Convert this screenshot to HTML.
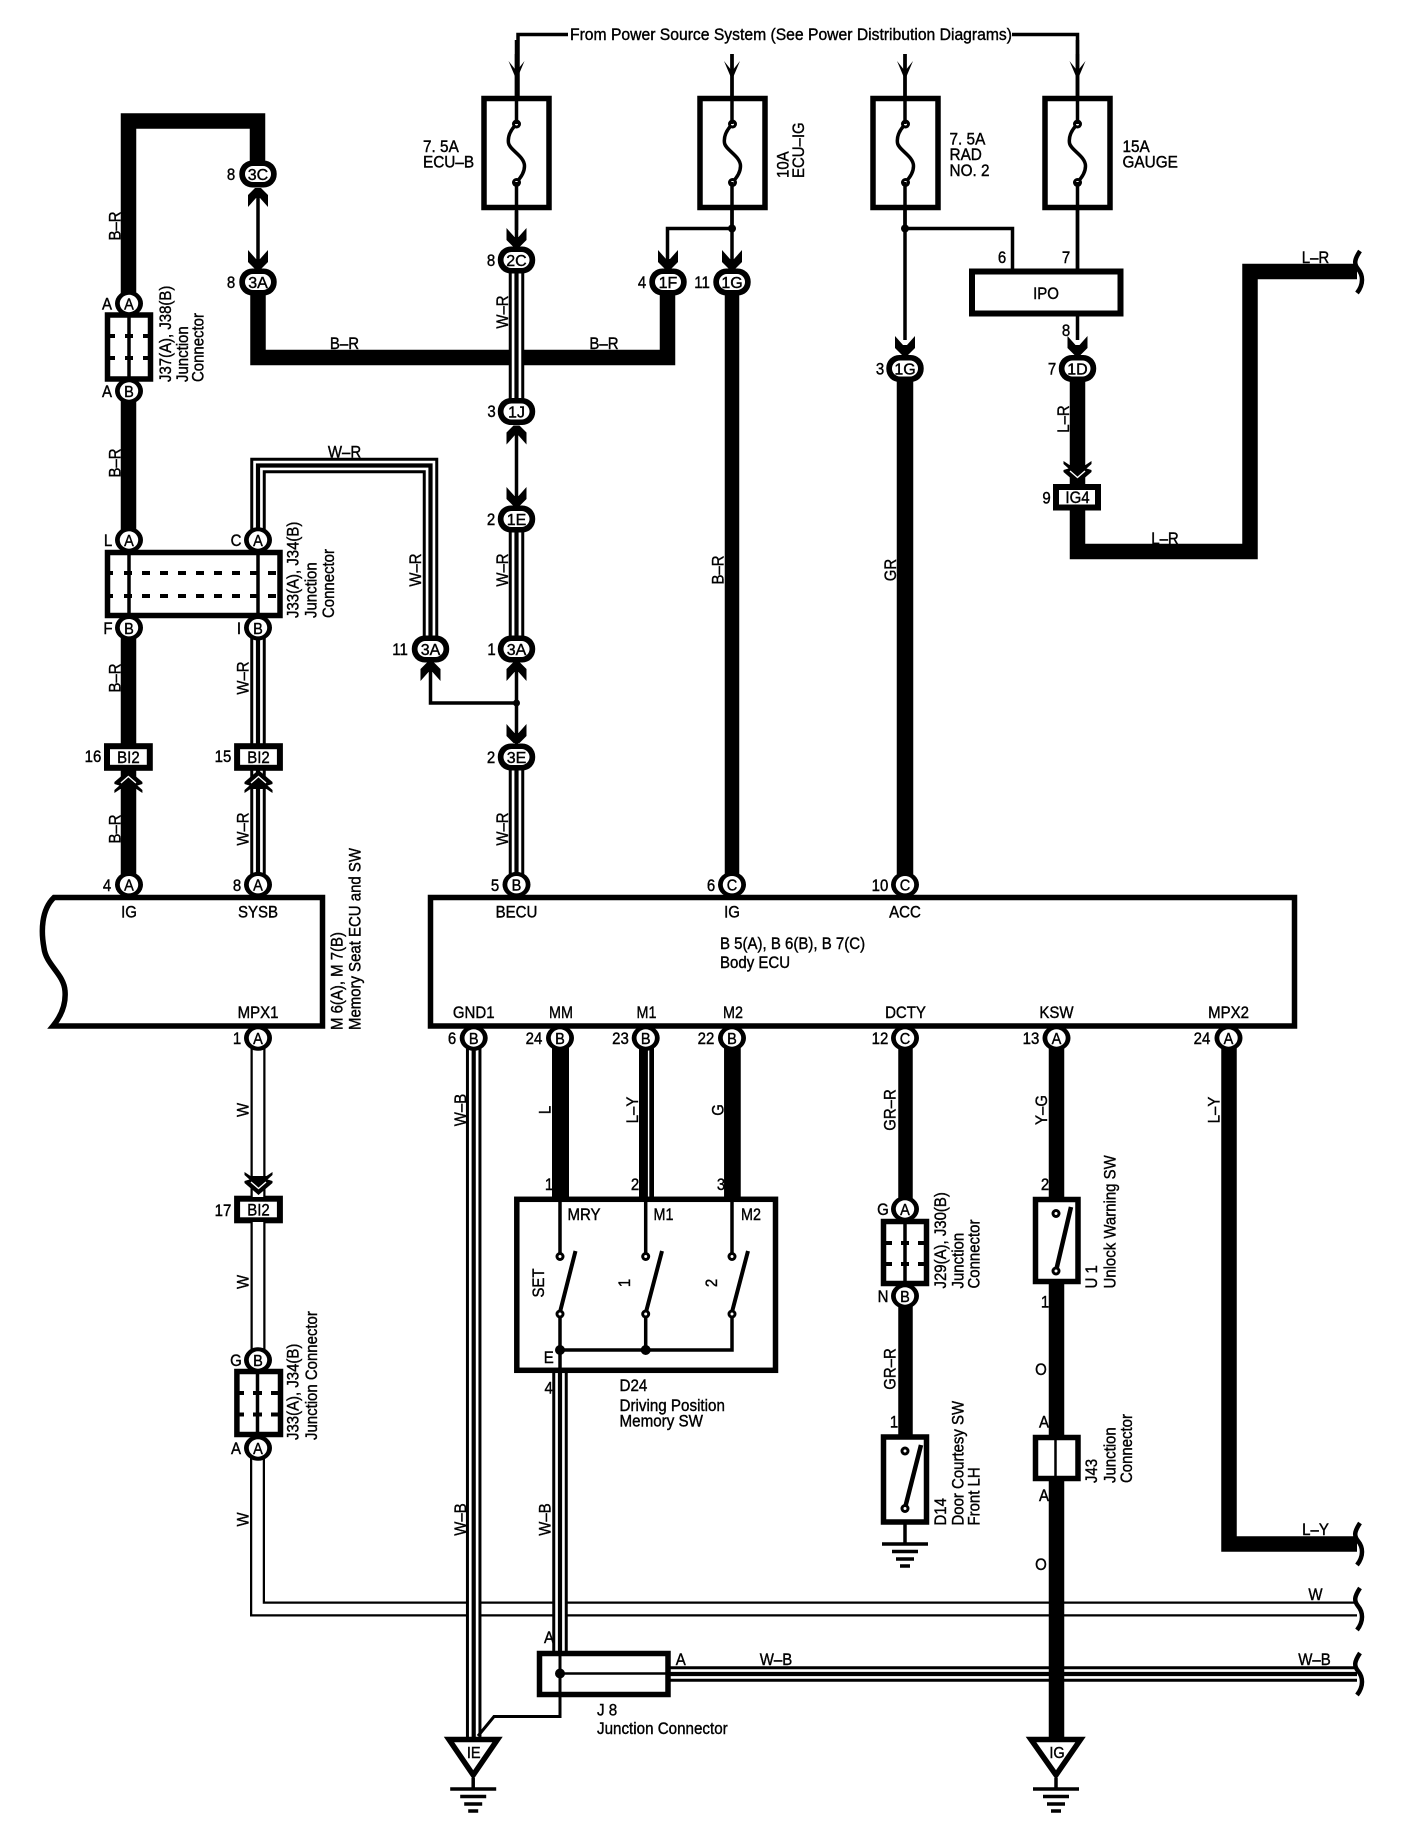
<!DOCTYPE html>
<html lang="en"><head><meta charset="utf-8"><title>Wiring diagram</title>
<style>
html,body{margin:0;padding:0;background:#fff}
svg{display:block}
text{font-family:"Liberation Sans",sans-serif;font-size:16.5px;fill:#000;stroke:#000;stroke-width:.4;text-anchor:middle}
.s{text-anchor:start}
text.c{font-size:16px}
.r text{font-size:17px}
.t{fill:none;stroke:#000;stroke-width:3.5}
.k{fill:none;stroke:#000;stroke-width:15.5}
.o{fill:none;stroke:#000;stroke-width:15.5}
.i{fill:none;stroke:#fff;stroke-width:9.5}
.n{fill:none;stroke:#000;stroke-width:4.2}
.w{fill:none;stroke:#fff;stroke-width:10.5}
.b{fill:#fff;stroke:#000;stroke-width:5.5}
</style></head><body>
<svg xmlns="http://www.w3.org/2000/svg" width="1408" height="1834" viewBox="0 0 1408 1834">
<defs>
<g id="c1"><ellipse rx="14" ry="12.8"/><ellipse rx="9.2" ry="8.7" fill="#fff"/></g>
<g id="c2"><rect x="-18.7" y="-13.5" width="37.4" height="27" rx="13" ry="13"/><rect x="-13" y="-8" width="26" height="16" rx="8" ry="8" fill="#fff"/></g>
<polygon id="ad" points="-10,0 -2,9 2,9 10,0 10,12 3,19 -3,19 -10,12"/>
<polygon id="at" points="-8,0 0,10 8,0 0,19"/>
<g id="dc"><polygon points="0,0 14,12 14,14 9,15.5 14,20 14,23 8,19 -8,19 -14,23 -14,20 -9,15.5 -14,14 -14,12"/><polyline points="-7.5,13 0,6.5 7.5,13" fill="none" stroke="#fff" stroke-width="1.4"/></g>
<g id="fuse"><rect x="-32.5" y="98.5" width="65" height="109" class="b"/><path d="M0,124C-6,130-9,136-8,143C-7,150 8,156 8,166C8,172 4,178 0,182" class="t"/><circle cy="124" r="4.5"/><circle cy="124" r="1.5" fill="#fff"/><circle cy="182.5" r="4.5"/><circle cy="182.5" r="1.5" fill="#fff"/></g>
<path id="wave" d="M2,-21C-4,-12-4,-8 0,-3C5,3 6,12-1,21" fill="none" stroke="#000" stroke-width="4.5"/>
<g id="gnd"><path d="M-23,0H23" stroke="#000" stroke-width="3.5"/><path d="M-13,7.5H13" stroke="#000" stroke-width="3.5"/><path d="M-9,15H9" stroke="#000" stroke-width="3.5"/><path d="M-5,22H5" stroke="#000" stroke-width="3.5"/></g>
<g id="term"><circle r="4.5"/><circle r="1.5" fill="#fff"/></g>
<g id="bi"><rect x="-21.4" y="-10.8" width="42.8" height="21.6" fill="#fff" stroke="#000" stroke-width="6"/></g>
</defs>

<!-- background W wire -->
<path d="M257.5,1448V1609H1357" class="o" style="stroke-width:15"/><path d="M257.5,1448V1609H1357" class="w" style="stroke-width:10.5"/>
<!-- L-Y, L-R thick -->
<path d="M1229,1038V1544H1357" class="k"/>
<path d="M1077.5,368V551.5H1250V271.5H1357" class="k"/>
<!-- J8 triple -->
<path d="M670,1674H1357" class="o"/><path d="M670,1674H1357" class="i"/><path d="M670,1674H1357" class="n"/>

<!-- Power top lines -->
<path d="M568,34.5H518V96M1012,34.5H1077.5V96" fill="none" stroke="#000" stroke-width="3.5"/>
<use href="#at" x="516.5" y="61"/><use href="#at" x="1077.5" y="61"/><use href="#at" x="732" y="61"/><use href="#at" x="905" y="61"/>
<path d="M732,54V100M905,54V100M516.5,40V100M1077.5,40V100" class="t"/>
<text x="570" y="40" class="s" textLength="442" lengthAdjust="spacingAndGlyphs">From Power Source System (See Power Distribution Diagrams)</text>

<!-- thick B-R left -->
<path d="M128.5,390V121H257.5V174" class="k"/>
<path d="M128.5,390V540" class="k"/>
<path d="M258,282V357.5H667.5V282" class="k"/>
<path d="M258,190V265" class="t"/>
<use href="#ad" transform="translate(258,188) scale(1,-1) translate(0,-19)"/>
<use href="#ad" x="258" y="250"/>
<path d="M128.5,628V885" class="k"/>

<!-- W-R triples -->
<g>
<path d="M516.5,260V411" class="o"/><path d="M516.5,260V411" class="i"/><path d="M516.5,260V411" class="n"/>
<path d="M516.5,519V649" class="o"/><path d="M516.5,519V649" class="i"/><path d="M516.5,519V649" class="n"/>
<path d="M516.5,757V885" class="o"/><path d="M516.5,757V885" class="i"/><path d="M516.5,757V885" class="n"/>
<path d="M258,540V465.5H430.5V649" class="o"/><path d="M258,540V465.5H430.5V649" class="i"/><path d="M258,540V465.5H430.5V649" class="n"/>
<path d="M258,628V885" class="o"/><path d="M258,628V885" class="i"/><path d="M258,628V885" class="n"/>
</g>
<path d="M516.5,211V245M516.5,430V505M516.5,665V745M430.5,665V703H516.5" class="t"/>
<circle cx="516.5" cy="703" r="3.5"/>
<use href="#ad" x="516.5" y="228"/>
<use href="#ad" transform="translate(516.5,444.5) scale(1,-1)"/>
<use href="#ad" x="516.5" y="487"/>
<use href="#ad" transform="translate(516.5,681) scale(1,-1)"/>
<use href="#ad" transform="translate(430.5,681) scale(1,-1)"/>
<use href="#ad" x="516.5" y="724"/>

<!-- fuse outputs -->
<path d="M732,205V265M667.5,265V228.5H732M905,205V340M905,228.5H1012.5V270M1077.5,205V270M1077.5,315V340" class="t"/>
<circle cx="732" cy="228.5" r="4"/><circle cx="905" cy="228.5" r="4"/>
<use href="#ad" x="668" y="250"/><use href="#ad" x="732" y="250"/><use href="#ad" x="905" y="336"/><use href="#ad" x="1077.5" y="336"/>
<use href="#fuse" x="516.5"/><use href="#fuse" x="732.5"/><use href="#fuse" x="905.5"/><use href="#fuse" x="1077.5"/>
<path d="M516.5,54V124M516.5,182V230M732,54V124M732,182V230M905,54V124M905,182V230M1077.5,54V124M1077.5,182V270" class="t"/>

<!-- thick mains -->
<path d="M732,282V885" fill="none" stroke="#000" stroke-width="14.5"/>
<path d="M905,368V885" fill="none" stroke="#000" stroke-width="16.5"/>

<!-- IPO -->
<rect x="972" y="271.5" width="148.5" height="42" fill="#fff" stroke="#000" stroke-width="6"/>
<text transform="translate(1046 299) scale(.91 1)">IPO</text>
<!-- IG4 -->
<rect x="1056" y="487" width="42" height="20.5" fill="#fff" stroke="#000" stroke-width="6"/>
<text transform="translate(1077.5 503) scale(.91 1)">IG4</text>
<use href="#dc" transform="translate(1077.5,484) scale(1,-1)"/>

<!-- connectors 2-char -->
<use href="#c2" x="258" y="174"/><use href="#c2" x="258" y="282"/><use href="#c2" x="516.5" y="260"/><use href="#c2" x="668" y="282"/><use href="#c2" x="732" y="282"/><use href="#c2" x="516.5" y="411.5"/><use href="#c2" x="516.5" y="519"/><use href="#c2" x="430.5" y="649"/><use href="#c2" x="516.5" y="649"/><use href="#c2" x="516.5" y="757"/><use href="#c2" x="905" y="368.5"/><use href="#c2" x="1077.5" y="368.5"/>
<text class="c" x="258" y="180">3C</text>
<text class="c" x="258" y="288">3A</text>
<text class="c" x="516.5" y="266">2C</text>
<text class="c" x="668" y="288">1F</text>
<text class="c" x="732" y="288">1G</text>
<text class="c" x="516.5" y="417.5">1J</text>
<text class="c" x="516.5" y="525">1E</text>
<text class="c" x="430.5" y="655">3A</text>
<text class="c" x="516.5" y="655">3A</text>
<text class="c" x="516.5" y="763">3E</text>
<text class="c" x="905" y="374.5">1G</text>
<text class="c" x="1077.5" y="374.5">1D</text>

<!-- J37 -->
<rect x="107.5" y="315" width="43" height="64" class="b"/>
<path d="M129,315V379" class="t"/>
<path d="M108,336H115M125,336H133M143,336H150M108,358H115M125,358H133M143,358H150" fill="none" stroke="#000" stroke-width="4"/>
<use href="#c1" x="129" y="303.5"/><use href="#c1" x="129" y="391"/>
<text class="c" transform="translate(129 309.5) scale(.91 1)">A</text>
<text class="c" transform="translate(129 397) scale(.91 1)">B</text>

<!-- J33 large -->
<rect x="107.5" y="552.5" width="172.5" height="63" class="b"/>
<path d="M129,552V616M258,552V616" class="t"/>
<path d="M124,573H280M124,596H280" fill="none" stroke="#000" stroke-width="4" style="stroke-dasharray:8 10"/>
<path d="M106,573H113M106,596H113" fill="none" stroke="#000" stroke-width="4"/>
<use href="#c1" x="129" y="540"/><use href="#c1" x="258" y="540"/><use href="#c1" x="129" y="627.7"/><use href="#c1" x="258" y="627.7"/>
<text class="c" transform="translate(129 546) scale(.91 1)">A</text>
<text class="c" transform="translate(258 546) scale(.91 1)">A</text>
<text class="c" transform="translate(129 634) scale(.91 1)">B</text>
<text class="c" transform="translate(258 634) scale(.91 1)">B</text>

<!-- BI2 -->
<use href="#bi" x="128.4" y="757"/><use href="#bi" x="258.5" y="757"/><use href="#bi" x="258.5" y="1209.5"/>
<text transform="translate(128.4 763) scale(.91 1)">BI2</text>
<text transform="translate(258.5 763) scale(.91 1)">BI2</text>
<text transform="translate(258.5 1215.5) scale(.91 1)">BI2</text>
<use href="#dc" x="128.4" y="770"/><use href="#dc" x="258.5" y="770"/>

<!-- M6 box -->
<path d="M54,897.5H322.5V1026H53C62,1015 66,1003 65,991C64,974 46,965 44,948C41,932 41,910 54,897.5Z" class="b"/>
<!-- Body ECU -->
<rect x="430.5" y="897.5" width="864" height="128.5" class="b"/>

<!-- lower wires -->
<path d="M258,1038V1197" class="o" style="stroke-width:15"/><path d="M258,1038V1197" class="w"/>
<path d="M258,1222V1360" class="o" style="stroke-width:15"/><path d="M258,1222V1360" class="w"/>
<use href="#dc" transform="translate(258.5,1195) scale(1,-1)"/>

<!-- W-B verticals -->
<path d="M473.7,1038V1737" class="o"/><path d="M473.7,1038V1737" class="i"/><path d="M473.7,1038V1737" class="n"/>
<path d="M560,1372V1651" class="o"/><path d="M560,1372V1651" class="i"/><path d="M560,1372V1651" class="n"/>

<!-- MM, M1, M2 -->
<path d="M560.5,1038V1198" fill="none" stroke="#000" stroke-width="17"/>
<path d="M646.5,1038V1198" fill="none" stroke="#000" stroke-width="15"/>
<path d="M648.6,1045V1198" fill="none" stroke="#fff" stroke-width="1.4"/>
<path d="M732.4,1038V1198" fill="none" stroke="#000" stroke-width="16.7"/>
<!-- D24 -->
<rect x="516.8" y="1199.3" width="258.7" height="171" class="b"/>
<path d="M560,1198V1256M645.7,1198V1256M732,1198V1256M560,1314V1350M645.7,1314V1350M732,1314V1350H560V1372" class="t"/>
<path d="M575.5,1251L560,1312M662,1251L646,1312M748,1251L732,1312" fill="none" stroke="#000" stroke-width="4"/>
<use href="#term" x="560" y="1256.5"/><use href="#term" x="645.7" y="1256.5"/><use href="#term" x="732" y="1256.5"/><use href="#term" x="560" y="1314"/><use href="#term" x="645.7" y="1314"/><use href="#term" x="732" y="1314"/>
<circle cx="560" cy="1350" r="5"/><circle cx="645.7" cy="1350" r="5"/>

<!-- GR-R, Y-G, O -->
<path d="M905.5,1038V1220M905.5,1296V1436" fill="none" stroke="#000" stroke-width="14.5"/>
<path d="M1056.5,1038V1198M1056.5,1284V1737" fill="none" stroke="#000" stroke-width="15.5"/>

<!-- J29 -->
<rect x="883.5" y="1221.5" width="43" height="62" class="b"/>
<path d="M905,1221V1284" class="t"/>
<path d="M884,1243H892M901,1243H909M918,1243H926M884,1264H892M901,1264H909M918,1264H926" fill="none" stroke="#000" stroke-width="4"/>
<!-- D14 -->
<rect x="883.5" y="1437" width="43" height="85" class="b"/>
<path d="M905,1524V1544" class="t"/>
<path d="M921,1445L905,1508" fill="none" stroke="#000" stroke-width="4.5"/>
<use href="#term" x="905" y="1451"/><use href="#term" x="905" y="1508.5"/>
<use href="#gnd" x="905" y="1544"/>
<!-- U1 -->
<rect x="1035.5" y="1199.5" width="42.5" height="82" class="b"/>
<path d="M1071,1207L1056,1271" fill="none" stroke="#000" stroke-width="4.5"/>
<use href="#term" x="1056" y="1213.5"/><use href="#term" x="1056" y="1271"/>
<!-- J43 -->
<rect x="1035.5" y="1437.5" width="42.5" height="41" class="b"/>
<path d="M1055.5,1437V1479" fill="none" stroke="#000" stroke-width="2.5"/>

<!-- J33 small -->
<rect x="236.9" y="1371.5" width="43.6" height="63" class="b"/>
<path d="M257.5,1371V1435" class="t"/>
<path d="M237,1393H244M253,1393H262M271,1393H280M237,1414.5H244M253,1414.5H262M271,1414.5H280" fill="none" stroke="#000" stroke-width="4"/>

<!-- J8 -->
<rect x="539.5" y="1653.5" width="128.5" height="41" class="b"/>
<path d="M560,1651V1716.5H494L478,1736" fill="none" stroke="#000" stroke-width="3"/>
<path d="M560,1673.5H668" fill="none" stroke="#000" stroke-width="2.5"/>
<circle cx="560" cy="1673.5" r="5"/>

<!-- grounds -->
<polygon points="449,1739.5 497.5,1739.5 473.2,1775" fill="#fff" stroke="#000" stroke-width="5.5"/>
<polygon points="1031,1739.5 1080.5,1739.5 1056,1775" fill="#fff" stroke="#000" stroke-width="5.5"/>
<path d="M473.2,1778V1789M1056,1778V1789" class="t"/>
<use href="#gnd" x="473.2" y="1789"/><use href="#gnd" x="1056" y="1789"/>
<text class="c" transform="translate(473.7 1758) scale(.91 1)">IE</text>
<text class="c" transform="translate(1057 1758) scale(.91 1)">IG</text>

<!-- waves -->
<use href="#wave" x="1358" y="272"/><use href="#wave" x="1358" y="1544"/><use href="#wave" x="1358" y="1609"/><use href="#wave" x="1358" y="1674"/>

<!-- single-letter connectors -->
<use href="#c1" x="129" y="884.7"/><use href="#c1" x="258" y="884.7"/><use href="#c1" x="516.5" y="884.7"/><use href="#c1" x="732" y="884.7"/><use href="#c1" x="905" y="884.7"/>
<use href="#c1" x="258" y="1038"/><use href="#c1" x="473.7" y="1038"/><use href="#c1" x="560" y="1038"/><use href="#c1" x="645.7" y="1038"/><use href="#c1" x="732" y="1038"/><use href="#c1" x="905" y="1038"/><use href="#c1" x="1056.5" y="1038"/><use href="#c1" x="1228.5" y="1038"/>
<use href="#c1" x="258" y="1360"/><use href="#c1" x="258" y="1448"/><use href="#c1" x="905" y="1209"/><use href="#c1" x="905" y="1296"/>
<text class="c" transform="translate(129 890.5) scale(.91 1)">A</text>
<text class="c" transform="translate(258 890.5) scale(.91 1)">A</text>
<text class="c" transform="translate(516.5 890.5) scale(.91 1)">B</text>
<text class="c" transform="translate(732 890.5) scale(.91 1)">C</text>
<text class="c" transform="translate(905 890.5) scale(.91 1)">C</text>
<text class="c" transform="translate(258 1044) scale(.91 1)">A</text>
<text class="c" transform="translate(473.7 1044) scale(.91 1)">B</text>
<text class="c" transform="translate(560 1044) scale(.91 1)">B</text>
<text class="c" transform="translate(645.7 1044) scale(.91 1)">B</text>
<text class="c" transform="translate(732 1044) scale(.91 1)">B</text>
<text class="c" transform="translate(905 1044) scale(.91 1)">C</text>
<text class="c" transform="translate(1056.5 1044) scale(.91 1)">A</text>
<text class="c" transform="translate(1228.5 1044) scale(.91 1)">A</text>
<text class="c" transform="translate(258 1366) scale(.91 1)">B</text>
<text class="c" transform="translate(258 1454) scale(.91 1)">A</text>
<text class="c" transform="translate(905 1215) scale(.91 1)">A</text>
<text class="c" transform="translate(905 1302) scale(.91 1)">B</text>

<!-- horizontal labels -->
<g>
<text transform="translate(231 180) scale(.91 1)">8</text>
<text transform="translate(231 288) scale(.91 1)">8</text>
<text transform="translate(491 266) scale(.91 1)">8</text>
<text transform="translate(642 288) scale(.91 1)">4</text>
<text transform="translate(702 288) scale(.91 1)">11</text>
<text transform="translate(491.5 417) scale(.91 1)">3</text>
<text transform="translate(491 525) scale(.91 1)">2</text>
<text transform="translate(400 655) scale(.91 1)">11</text>
<text transform="translate(491.5 655) scale(.91 1)">1</text>
<text transform="translate(491 763) scale(.91 1)">2</text>
<text transform="translate(880 374.5) scale(.91 1)">3</text>
<text transform="translate(1002 263) scale(.91 1)">6</text>
<text transform="translate(1066 263) scale(.91 1)">7</text>
<text transform="translate(1066 336) scale(.91 1)">8</text>
<text transform="translate(1052 374.5) scale(.91 1)">7</text>
<text transform="translate(1046.5 503.5) scale(.91 1)">9</text>
<text transform="translate(107 309.5) scale(.91 1)">A</text>
<text transform="translate(107 397) scale(.91 1)">A</text>
<text transform="translate(108 546) scale(.91 1)">L</text>
<text transform="translate(236 546) scale(.91 1)">C</text>
<text transform="translate(108 634) scale(.91 1)">F</text>
<text transform="translate(239 634) scale(.91 1)">I</text>
<text transform="translate(93 762) scale(.91 1)">16</text>
<text transform="translate(223 762) scale(.91 1)">15</text>
<text transform="translate(107 891) scale(.91 1)">4</text>
<text transform="translate(237 891) scale(.91 1)">8</text>
<text transform="translate(495 891) scale(.91 1)">5</text>
<text transform="translate(711 891) scale(.91 1)">6</text>
<text transform="translate(880 891) scale(.91 1)">10</text>
<text transform="translate(237 1044) scale(.91 1)">1</text>
<text transform="translate(452 1044) scale(.91 1)">6</text>
<text transform="translate(534 1044) scale(.91 1)">24</text>
<text transform="translate(620.5 1044) scale(.91 1)">23</text>
<text transform="translate(706 1044) scale(.91 1)">22</text>
<text transform="translate(880 1044) scale(.91 1)">12</text>
<text transform="translate(1031 1044) scale(.91 1)">13</text>
<text transform="translate(1202 1044) scale(.91 1)">24</text>
<text transform="translate(223 1216) scale(.91 1)">17</text>
<text transform="translate(236 1366) scale(.91 1)">G</text>
<text transform="translate(236 1454) scale(.91 1)">A</text>
<text transform="translate(549 1190) scale(.91 1)">1</text>
<text transform="translate(635 1190) scale(.91 1)">2</text>
<text transform="translate(721 1190) scale(.91 1)">3</text>
<text transform="translate(548.7 1363) scale(.91 1)">E</text>
<text transform="translate(548.7 1393.5) scale(.91 1)">4</text>
<text transform="translate(549 1643) scale(.91 1)">A</text>
<text transform="translate(680.7 1665) scale(.91 1)">A</text>
<text transform="translate(883 1215) scale(.91 1)">G</text>
<text transform="translate(883 1302) scale(.91 1)">N</text>
<text transform="translate(894 1427.5) scale(.91 1)">1</text>
<text transform="translate(1045 1190) scale(.91 1)">2</text>
<text transform="translate(1045 1307.5) scale(.91 1)">1</text>
<text transform="translate(1044 1427.5) scale(.91 1)">A</text>
<text transform="translate(1044 1501) scale(.91 1)">A</text>
<text transform="translate(1041 1375) scale(.91 1)">O</text>
<text transform="translate(1041 1570) scale(.91 1)">O</text>

<text transform="translate(344.5 349) scale(.91 1)">B–R</text>
<text transform="translate(604 349) scale(.91 1)">B–R</text>
<text transform="translate(344.5 457.5) scale(.91 1)">W–R</text>
<text transform="translate(1315.5 263) scale(.91 1)">L–R</text>
<text transform="translate(1165 544) scale(.91 1)">L–R</text>
<text transform="translate(1315.5 1535) scale(.91 1)">L–Y</text>
<text transform="translate(1315.5 1600) scale(.91 1)">W</text>
<text transform="translate(776 1665) scale(.91 1)">W–B</text>
<text transform="translate(1314.5 1665) scale(.91 1)">W–B</text>

<text transform="translate(129 917.5) scale(.91 1)">IG</text>
<text transform="translate(258 917.5) scale(.91 1)">SYSB</text>
<text transform="translate(516.5 917.5) scale(.91 1)">BECU</text>
<text transform="translate(732 917.5) scale(.91 1)">IG</text>
<text transform="translate(905 917.5) scale(.91 1)">ACC</text>
<text transform="translate(258 1018) scale(.91 1)">MPX1</text>
<text transform="translate(473.7 1018) scale(.91 1)">GND1</text>
<text transform="translate(561 1018) scale(.87 1)">MM</text>
<text transform="translate(646.5 1018) scale(.87 1)">M1</text>
<text transform="translate(733 1018) scale(.87 1)">M2</text>
<text transform="translate(905.5 1018) scale(.91 1)">DCTY</text>
<text transform="translate(1056.5 1018) scale(.91 1)">KSW</text>
<text transform="translate(1228.5 1018) scale(.91 1)">MPX2</text>
<text transform="translate(720 949) scale(.91 1)" class="s">B 5(A), B 6(B), B 7(C)</text>
<text transform="translate(720 968) scale(.91 1)" class="s">Body ECU</text>

<text transform="translate(423 152) scale(.93 1)" class="s">7. 5A</text>
<text transform="translate(423 167.5) scale(.93 1)" class="s">ECU–B</text>
<text transform="translate(949.5 144.5) scale(.93 1)" class="s">7. 5A</text>
<text transform="translate(949.5 160) scale(.93 1)" class="s">RAD</text>
<text transform="translate(949.5 176) scale(.93 1)" class="s">NO. 2</text>
<text transform="translate(1122.5 152) scale(.93 1)" class="s">15A</text>
<text transform="translate(1122.5 167.5) scale(.93 1)" class="s">GAUGE</text>

<text transform="translate(584 1220) scale(.91 1)">MRY</text>
<text transform="translate(663.5 1220) scale(.87 1)">M1</text>
<text transform="translate(751 1220) scale(.87 1)">M2</text>
<text transform="translate(619.5 1391) scale(.92 1)" class="s">D24</text>
<text transform="translate(619.5 1411) scale(.92 1)" class="s">Driving Position</text>
<text transform="translate(619.5 1426.5) scale(.92 1)" class="s">Memory SW</text>
<text transform="translate(597 1715.5) scale(.92 1)" class="s">J 8</text>
<text transform="translate(597 1734) scale(.92 1)" class="s">Junction Connector</text>
</g>

<!-- rotated labels -->
<g class="r">
<text transform="translate(120.5 226) rotate(-90) scale(.88 1)">B–R</text>
<text transform="translate(120.5 463) rotate(-90) scale(.88 1)">B–R</text>
<text transform="translate(120.5 678) rotate(-90) scale(.88 1)">B–R</text>
<text transform="translate(120.5 829) rotate(-90) scale(.88 1)">B–R</text>
<text transform="translate(248.5 678) rotate(-90) scale(.88 1)">W–R</text>
<text transform="translate(248.5 829) rotate(-90) scale(.88 1)">W–R</text>
<text transform="translate(508 312) rotate(-90) scale(.88 1)">W–R</text>
<text transform="translate(421 570) rotate(-90) scale(.88 1)">W–R</text>
<text transform="translate(508 570) rotate(-90) scale(.88 1)">W–R</text>
<text transform="translate(508 829) rotate(-90) scale(.88 1)">W–R</text>
<text transform="translate(723.5 570) rotate(-90) scale(.88 1)">B–R</text>
<text transform="translate(896 570) rotate(-90) scale(.88 1)">GR</text>
<text transform="translate(1069 419) rotate(-90) scale(.88 1)">L–R</text>
<text transform="translate(248.5 1110) rotate(-90) scale(.88 1)">W</text>
<text transform="translate(248.5 1282) rotate(-90) scale(.88 1)">W</text>
<text transform="translate(248.5 1519.5) rotate(-90) scale(.88 1)">W</text>
<text transform="translate(466 1110) rotate(-90) scale(.88 1)">W–B</text>
<text transform="translate(466 1519.5) rotate(-90) scale(.88 1)">W–B</text>
<text transform="translate(550.5 1519.5) rotate(-90) scale(.88 1)">W–B</text>
<text transform="translate(550.5 1110) rotate(-90) scale(.88 1)">L</text>
<text transform="translate(638 1110) rotate(-90) scale(.88 1)">L–Y</text>
<text transform="translate(723.5 1110) rotate(-90) scale(.88 1)">G</text>
<text transform="translate(895.5 1110) rotate(-90) scale(.88 1)">GR–R</text>
<text transform="translate(895.5 1369) rotate(-90) scale(.88 1)">GR–R</text>
<text transform="translate(1047 1110) rotate(-90) scale(.88 1)">Y–G</text>
<text transform="translate(1219.5 1110) rotate(-90) scale(.88 1)">L–Y</text>
<text transform="translate(544 1283) rotate(-90) scale(.88 1)">SET</text>
<text transform="translate(630 1283) rotate(-90) scale(.88 1)">1</text>
<text transform="translate(717 1283) rotate(-90) scale(.88 1)">2</text>

<text class="s" transform="translate(788.5 178) rotate(-90) scale(.88 1)">10A</text>
<text class="s" transform="translate(804 178) rotate(-90) scale(.88 1)">ECU–IG</text>
<text class="s" transform="translate(171 382) rotate(-90) scale(.88 1)">J37(A), J38(B)</text>
<text class="s" transform="translate(188 382) rotate(-90) scale(.88 1)">Junction</text>
<text class="s" transform="translate(203.5 382) rotate(-90) scale(.88 1)">Connector</text>
<text class="s" transform="translate(298.5 618) rotate(-90) scale(.88 1)">J33(A), J34(B)</text>
<text class="s" transform="translate(316.5 618) rotate(-90) scale(.88 1)">Junction</text>
<text class="s" transform="translate(334 618) rotate(-90) scale(.88 1)">Connector</text>
<text class="s" transform="translate(342.5 1030) rotate(-90) scale(.88 1)">M 6(A), M 7(B)</text>
<text class="s" transform="translate(360.5 1030) rotate(-90) scale(.88 1)">Memory Seat ECU and SW</text>
<text class="s" transform="translate(298.5 1440) rotate(-90) scale(.88 1)">J33(A), J34(B)</text>
<text class="s" transform="translate(317 1440) rotate(-90) scale(.88 1)">Junction Connector</text>
<text class="s" transform="translate(946 1288.5) rotate(-90) scale(.88 1)">J29(A), J30(B)</text>
<text class="s" transform="translate(963.5 1288.5) rotate(-90) scale(.88 1)">Junction</text>
<text class="s" transform="translate(979.5 1288.5) rotate(-90) scale(.88 1)">Connector</text>
<text class="s" transform="translate(946 1525.5) rotate(-90) scale(.88 1)">D14</text>
<text class="s" transform="translate(963.5 1525.5) rotate(-90) scale(.88 1)">Door Courtesy SW</text>
<text class="s" transform="translate(979.5 1525.5) rotate(-90) scale(.88 1)">Front LH</text>
<text class="s" transform="translate(1097 1288.5) rotate(-90) scale(.88 1)">U 1</text>
<text class="s" transform="translate(1115.5 1288.5) rotate(-90) scale(.88 1)">Unlock Warning SW</text>
<text class="s" transform="translate(1097 1483) rotate(-90) scale(.88 1)">J43</text>
<text class="s" transform="translate(1115.5 1483) rotate(-90) scale(.88 1)">Junction</text>
<text class="s" transform="translate(1132 1483) rotate(-90) scale(.88 1)">Connector</text>
</g>
</svg>
</body></html>
